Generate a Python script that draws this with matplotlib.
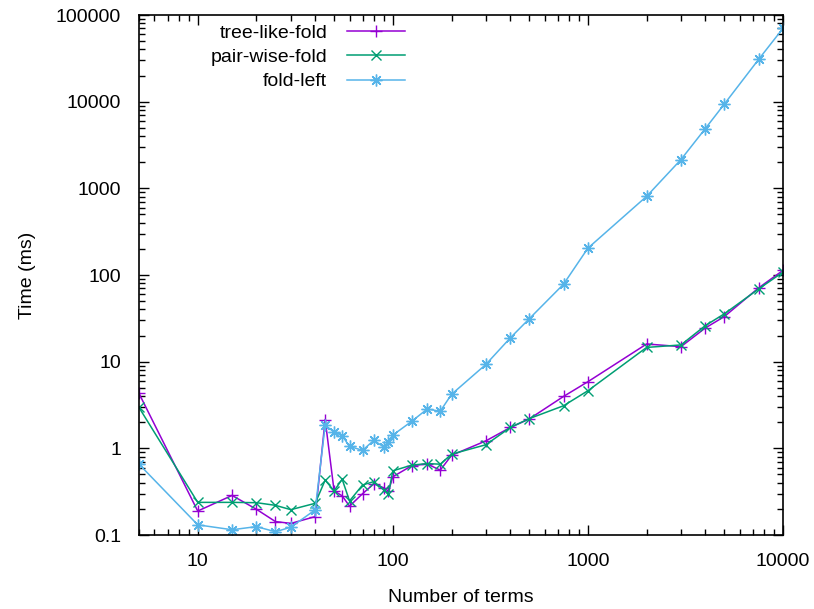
import matplotlib.pyplot as plt
import numpy as np

plt.rcParams['font.family'] = ['Liberation Sans', 'DejaVu Sans']

terms = [5, 10, 15, 20, 25, 30, 40, 45, 50, 55, 60, 70, 80, 90, 95, 100,
         125, 150, 175, 200, 300, 400, 500, 750, 1000, 2000, 3000, 4000,
         5000, 7500, 10000]

tree_like = [4.3, 0.189, 0.286, 0.198, 0.143, 0.136, 0.163, 2.15, 0.323,
             0.283, 0.215, 0.30, 0.39, 0.35, 0.32, 0.47, 0.63, 0.66, 0.56,
             0.83, 1.22, 1.74, 2.18, 3.97, 5.87, 16.0, 14.9, 24.5, 33.1,
             71, 113]

pair_wise = [2.96, 0.238, 0.238, 0.236, 0.22, 0.196, 0.232, 0.43, 0.323,
             0.44, 0.247, 0.378, 0.413, 0.33, 0.30, 0.55, 0.64, 0.667, 0.656,
             0.857, 1.1, 1.74, 2.2, 3.1, 4.62, 14.6, 15.6, 26.1, 35.6,
             69, 108]

fold_left = [0.656, 0.131, 0.115, 0.125, 0.109, 0.123, 0.195, 1.85, 1.54,
             1.40, 1.05, 0.95, 1.24, 1.03, 1.19, 1.42, 2.05, 2.84, 2.68,
             4.2, 9.3, 18.8, 31.2, 78.3, 204, 809, 2150, 4900, 9360,
             30760, 70200]

fig = plt.figure(figsize=(8.14, 6.09), dpi=100)
ax = fig.add_axes([139 / 814, 74 / 609, 644 / 814, 520 / 609])

ax.plot(terms, tree_like, '-', color='#9400D3', marker='+', ms=8, mew=1,
        lw=1.1, label='tree-like-fold')
ax.plot(terms, pair_wise, '-', color='#009E73', marker='x', ms=6.5, mew=1,
        lw=1.1, label='pair-wise-fold')
ax.plot(terms, fold_left, '-', color='#56B4E9', marker=(8, 2, 0), ms=8.5, mew=1,
        lw=1.1, label='fold-left')

ax.set_xscale('log')
ax.set_yscale('log')
ax.set_xlim(5, 10000)
ax.set_ylim(0.1, 100000)

xt = [10, 100, 1000, 10000]
yt = [0.1, 1, 10, 100, 1000, 10000, 100000]
ax.set_xticks(xt)
ax.set_xticklabels([str(v) for v in xt])
ax.set_yticks(yt)
ax.set_yticklabels(['0.1', '1', '10', '100', '1000', '10000', '100000'])

ax.tick_params(which='both', direction='in', top=True, right=True,
               labelsize=14, color='black')
ax.tick_params(which='major', length=7, width=1, pad=13)
ax.tick_params(which='minor', length=4, width=1)
for s in ax.spines.values():
    s.set_linewidth(1.2)

ax.set_xlabel('Number of terms', fontsize=14, labelpad=14)
ax.set_ylabel('Time (ms)', fontsize=14, labelpad=14)

ax.legend(loc='upper right', bbox_to_anchor=(405 / 814, (609 - 24) / 609),
          bbox_transform=fig.transFigure, frameon=False, markerfirst=False,
          fontsize=14, handlelength=3.0, handletextpad=1.0, labelspacing=0.35,
          borderpad=0, borderaxespad=0)

plt.savefig('out.png', dpi=100)
